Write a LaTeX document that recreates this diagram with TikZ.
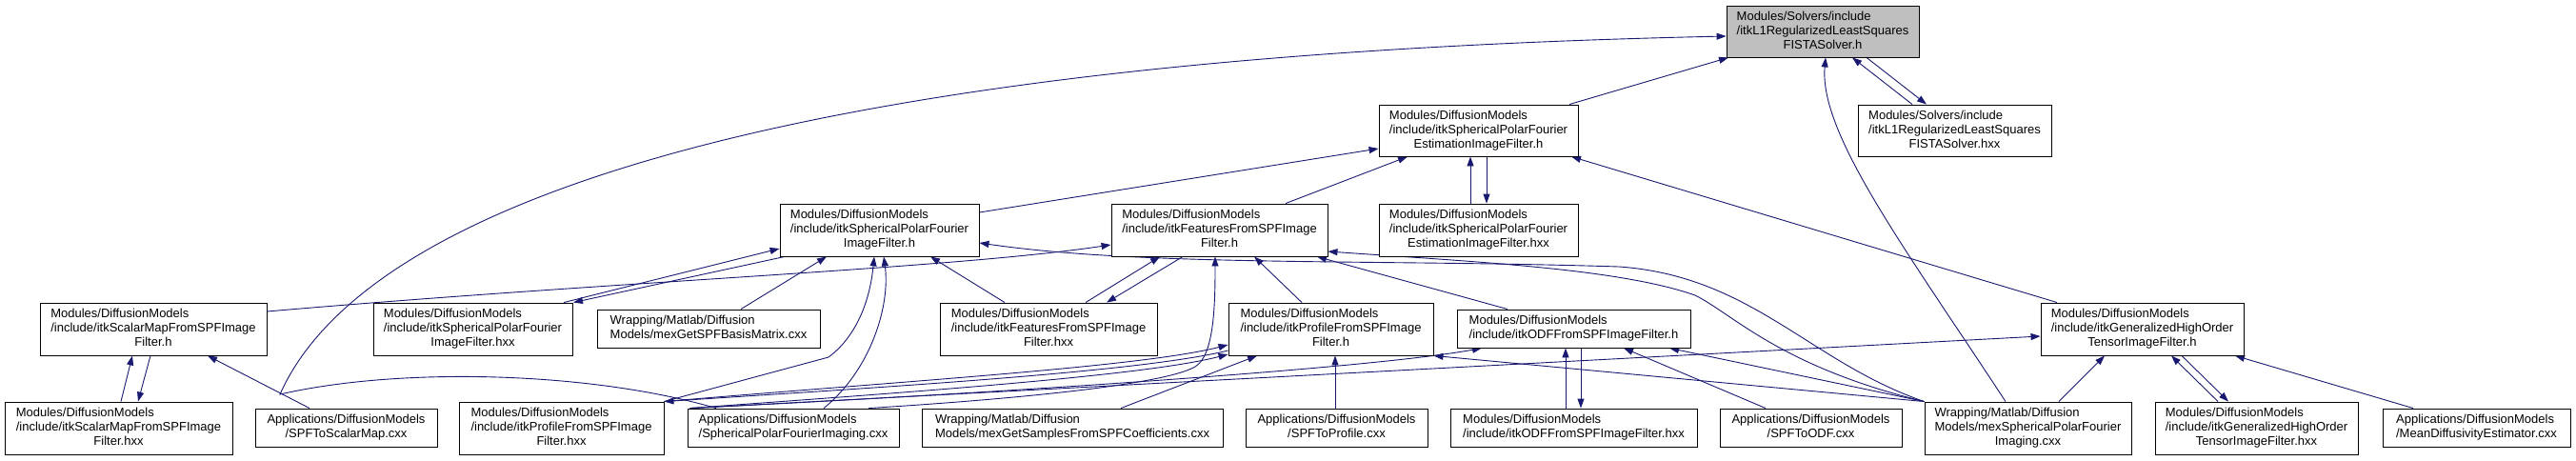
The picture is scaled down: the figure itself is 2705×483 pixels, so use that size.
\documentclass[tikz,border=0pt]{standalone}
\usepackage{fontspec}
\setmainfont{Liberation Sans}
\usetikzlibrary{arrows.meta}
\definecolor{edgeblue}{RGB}{25,25,112}
\definecolor{rootgray}{RGB}{191,191,191}
\newcommand\threel[3]{\begin{tabular}{@{}l@{}}#1\\#2\\\multicolumn{1}{@{}c@{}}{#3}\end{tabular}}
\newcommand\twol[2]{\begin{tabular}{@{}l@{}}#1\\\multicolumn{1}{@{}c@{}}{#2}\end{tabular}}
\pgfdeclarelayer{bg}
\pgfsetlayers{bg,main}
\begin{document}
\begin{tikzpicture}[x=1pt,y=-1pt,
  box/.style={draw=black, line width=0.9pt, fill=white, inner sep=0pt, font=\fontsize{13}{15}\selectfont},
  dep/.style={draw=edgeblue, line width=0.9pt, -{Triangle[length=10pt,width=7pt]}}]
\useasboundingbox (0,0) rectangle (2705,483);
% row 0
\node[box,fill=rootgray,minimum width=202pt,minimum height=54pt] (root) at (1914,33) {\threel{Modules/Solvers/include}{/itkL1RegularizedLeastSquares}{FISTASolver.h}};
% row 1
\node[box,minimum width=203pt,minimum height=54pt] (solverhxx) at (2052.5,137) {\threel{Modules/Solvers/include}{/itkL1RegularizedLeastSquares}{FISTASolver.hxx}};
\node[box,minimum width=209pt,minimum height=54pt] (esth) at (1552.5,137) {\threel{Modules/DiffusionModels}{/include/itkSphericalPolarFourier}{EstimationImageFilter.h}};
% row 2
\node[box,minimum width=209pt,minimum height=55pt] (spfh) at (923.5,241.5) {\threel{Modules/DiffusionModels}{/include/itkSphericalPolarFourier}{ImageFilter.h}};
\node[box,minimum width=227pt,minimum height=55pt] (feath) at (1280.5,241.5) {\threel{Modules/DiffusionModels}{/include/itkFeaturesFromSPFImage}{Filter.h}};
\node[box,minimum width=209pt,minimum height=55pt] (esthxx) at (1552.5,241.5) {\threel{Modules/DiffusionModels}{/include/itkSphericalPolarFourier}{EstimationImageFilter.hxx}};
% row 3
\node[box,minimum width=238pt,minimum height=55pt] (scalarh) at (161,345.5) {\threel{Modules/DiffusionModels}{/include/itkScalarMapFromSPFImage}{Filter.h}};
\node[box,minimum width=209pt,minimum height=55pt] (spfhxx) at (496.5,345.5) {\threel{Modules/DiffusionModels}{/include/itkSphericalPolarFourier}{ImageFilter.hxx}};
\node[box,minimum width=234pt,minimum height=40pt] (mexbasis) at (744,345) {\twol{Wrapping/Matlab/Diffusion}{Models/mexGetSPFBasisMatrix.cxx}};
\node[box,minimum width=228pt,minimum height=55pt] (feathxx) at (1101,345.5) {\threel{Modules/DiffusionModels}{/include/itkFeaturesFromSPFImage}{Filter.hxx}};
\node[box,minimum width=215pt,minimum height=55pt] (profh) at (1397.5,345.5) {\threel{Modules/DiffusionModels}{/include/itkProfileFromSPFImage}{Filter.h}};
\node[box,minimum width=245pt,minimum height=40pt] (odfh) at (1652.5,345) {\twol{Modules/DiffusionModels}{/include/itkODFFromSPFImageFilter.h}};
\node[box,minimum width=213pt,minimum height=55pt] (ghoh) at (2249.5,345.5) {\threel{Modules/DiffusionModels}{/include/itkGeneralizedHighOrder}{TensorImageFilter.h}};
% row 4
\node[box,minimum width=239pt,minimum height=55pt] (scalarhxx) at (124.5,449.5) {\threel{Modules/DiffusionModels}{/include/itkScalarMapFromSPFImage}{Filter.hxx}};
\node[box,minimum width=191pt,minimum height=40pt] (spftoscalar) at (363.5,449) {\twol{Applications/DiffusionModels}{/SPFToScalarMap.cxx}};
\node[box,minimum width=215pt,minimum height=55pt] (profhxx) at (589.5,449.5) {\threel{Modules/DiffusionModels}{/include/itkProfileFromSPFImage}{Filter.hxx}};
\node[box,minimum width=222pt,minimum height=40pt] (spfimg) at (833,449) {\twol{Applications/DiffusionModels}{/SphericalPolarFourierImaging.cxx}};
\node[box,minimum width=316pt,minimum height=40pt] (mexsamples) at (1126,449) {\twol{Wrapping/Matlab/Diffusion}{Models/mexGetSamplesFromSPFCoefficients.cxx}};
\node[box,minimum width=191pt,minimum height=40pt] (spftoprofile) at (1403.5,449) {\twol{Applications/DiffusionModels}{/SPFToProfile.cxx}};
\node[box,minimum width=259pt,minimum height=40pt] (odfhxx) at (1652.5,449) {\twol{Modules/DiffusionModels}{/include/itkODFFromSPFImageFilter.hxx}};
\node[box,minimum width=191pt,minimum height=40pt] (spftoodf) at (1901.5,449) {\twol{Applications/DiffusionModels}{/SPFToODF.cxx}};
\node[box,minimum width=217pt,minimum height=55pt] (mexspf) at (2129.5,449.5) {\threel{Wrapping/Matlab/Diffusion}{Models/mexSphericalPolarFourier}{Imaging.cxx}};
\node[box,minimum width=213pt,minimum height=55pt] (ghohxx) at (2369.5,449.5) {\threel{Modules/DiffusionModels}{/include/itkGeneralizedHighOrder}{TensorImageFilter.hxx}};
\node[box,minimum width=197pt,minimum height=40pt] (meandiff) at (2600.5,449) {\twol{Applications/DiffusionModels}{/MeanDiffusivityEstimator.cxx}};

\begin{pgfonlayer}{bg}
% into root
\draw[dep] (esth.north -| 1648,0) -- (root.south -| 1815,0);
\draw[dep] (solverhxx.north -| 2008,0) -- (root.south -| 1945,0);
\draw[dep] (root.south -| 1960,0) -- (solverhxx.north -| 2023,0);
\draw[dep] (spfimg.north -| 752,0) .. controls (620,390) and (420,385) .. (294,414) .. controls (380,220) and (800,60) .. (root.west |- 0,38);
\draw[dep] (mexspf.north -| 2106,0) .. controls (2000,260) and (1910,140) .. (root.south -| 1917,0);
% into estimation .h
\draw[dep] (spfh.east |- 0,223) -- (esth.west |- 0,156);
\draw[dep] (feath.north -| 1350,0) -- (esth.south -| 1478,0);
\draw[dep] (esthxx.north -| 1544,0) -- (esth.south -| 1544,0);
\draw[dep] (esth.south -| 1561,0) -- (esthxx.north -| 1561,0);
\draw[dep] (ghoh.north -| 2160,0) -- (esth.south -| 1650,0);
% scalar map
\draw[dep] (scalarhxx.north -| 127,0) -- (scalarh.south -| 139,0);
\draw[dep] (scalarh.south -| 158,0) -- (scalarhxx.north -| 145,0);
\draw[dep] (spftoscalar.north -| 325,0) -- (scalarh.south -| 218,0);
\draw[dep] (scalarh.east |- 0,327) .. controls (650,295) and (1000,282) .. (feath.west |- 0,257);
% into spf .h
\draw[dep] (spfhxx.north -| 592,0) -- (spfh.west |- 0,261);
\draw[dep] (spfh.south -| 824,0) -- (spfhxx.north -| 602,0);
\draw[dep] (mexbasis.north -| 778,0) -- (spfh.south -| 868,0);
\draw[dep] (feathxx.north -| 1055,0) -- (spfh.south -| 977,0);
\draw[dep] (spfimg.north -| 865,0) .. controls (915,388) and (935,320) .. (spfh.south -| 928,0);
\draw[dep] (profhxx.north east) -- (870,375) .. controls (897,355) and (913,320) .. (spfh.south -| 918,0);
\draw[dep] (mexspf.north west) .. controls (1900,380) and (1840,290) .. (1700,280) .. controls (1450,272) and (1200,280) .. (spfh.east |- 0,255);
% into features .h
\draw[dep] (feathxx.north -| 1140,0) -- (feath.south -| 1218,0);
\draw[dep] (feath.south -| 1242,0) -- (feathxx.north -| 1162,0);
\draw[dep] (spfimg.north -| 912,0) .. controls (1050,420) and (1220,405) .. (1255,385) .. controls (1275,373) and (1276,320) .. (feath.south -| 1276,0);
\draw[dep] (profh.north -| 1367,0) -- (feath.south -| 1317,0);
\draw[dep] (odfh.north -| 1583,0) -- (feath.south -| 1383,0);
\draw[dep] (mexspf.north west) .. controls (1870,385) and (1820,330) .. (1780,310) .. controls (1700,282) and (1550,275) .. (feath.east |- 0,264);
% into profile .h
\draw[dep] (profhxx.north east) .. controls (950,400) and (1200,385) .. (profh.west |- 0,362);
\draw[dep] (profh.west |- 0,368) .. controls (1200,390) and (950,405) .. (profhxx.north east);
\draw[dep] ([xshift=3pt]spfimg.north west) .. controls (950,412) and (1200,395) .. (profh.west |- 0,372);
\draw[dep] (mexsamples.north -| 1177,0) -- (profh.south -| 1320,0);
\draw[dep] (spftoprofile.north -| 1402,0) -- (profh.south -| 1402,0);
\draw[dep] (mexspf.north west) -- (profh.south east);
% into odf .h
\draw[dep] ([xshift=3pt]spfimg.north west) .. controls (1100,410) and (1450,385) .. (odfh.south -| 1556,0);
\draw[dep] (odfhxx.north -| 1644,0) -- (odfh.south -| 1644,0);
\draw[dep] (odfh.south -| 1660,0) -- (odfhxx.north -| 1660,0);
\draw[dep] (spftoodf.north -| 1854,0) -- (odfh.south -| 1705,0);
\draw[dep] (mexspf.north west) -- (odfh.south -| 1753,0);
% into gho .h
\draw[dep] ([xshift=3pt]spfimg.north west) -- (ghoh.west |- 0,353);
\draw[dep] (mexspf.north -| 2162,0) -- (ghoh.south -| 2210,0);
\draw[dep] (ghohxx.north -| 2329,0) -- (ghoh.south -| 2280,0);
\draw[dep] (ghoh.south -| 2291,0) -- (ghohxx.north -| 2340,0);
\draw[dep] (meandiff.north -| 2534,0) -- (ghoh.south -| 2347,0);
\end{pgfonlayer}
\end{tikzpicture}
\end{document}
